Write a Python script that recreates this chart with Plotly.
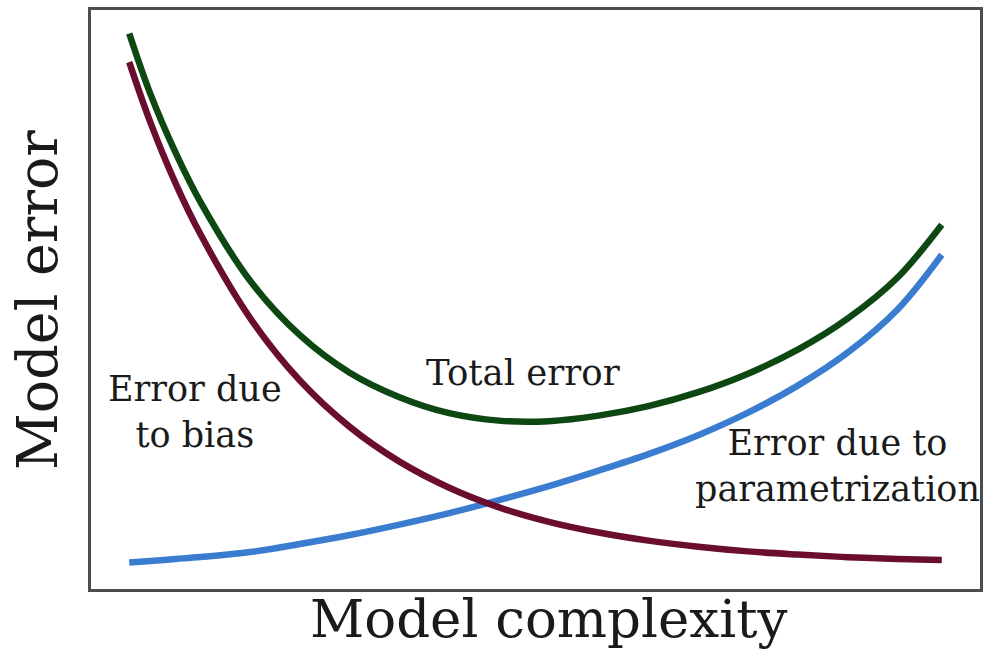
import plotly.graph_objects as go

# Model complexity (arbitrary units, 0-10)
complexity = [0.43, 0.67, 0.95, 1.23, 1.79, 2.35, 2.91, 3.47, 4.03, 4.59,
              5.15, 5.71, 6.27, 6.83, 7.39, 7.95, 8.51, 9.07, 9.57]

# Error due to bias (decreasing)
bias_error = [9.10, 8.05, 7.01, 6.13, 4.68, 3.60, 2.80, 2.20, 1.75, 1.41,
              1.16, 0.975, 0.835, 0.73, 0.65, 0.595, 0.55, 0.52, 0.50]

# Error due to parametrization (increasing)
param_error = [0.457, 0.483, 0.518, 0.552, 0.638, 0.777, 0.932, 1.113, 1.311, 1.536,
               1.777, 2.045, 2.330, 2.657, 3.046, 3.512, 4.081, 4.823, 5.772]

# Total error
total_error = [9.594, 8.542, 7.541, 6.687, 5.324, 4.383, 3.736, 3.313, 3.037, 2.908,
               2.899, 2.994, 3.158, 3.399, 3.719, 4.133, 4.668, 5.375, 6.290]

FONT = "DejaVu Serif"
TXT = "#1a1a1a"

fig = go.Figure()
fig.add_trace(go.Scatter(x=complexity, y=param_error, mode="lines",
                         line=dict(color="#3a7dd0", width=6.5, shape="spline"),
                         name="Error due to parametrization"))
fig.add_trace(go.Scatter(x=complexity, y=bias_error, mode="lines",
                         line=dict(color="#6b0d2e", width=6.5, shape="spline"),
                         name="Error due to bias"))
fig.add_trace(go.Scatter(x=complexity, y=total_error, mode="lines",
                         line=dict(color="#0d4712", width=6.5, shape="spline"),
                         name="Total error"))

annotations = [
    dict(text="Error due<br>to bias", x=1.17, y=3.05, xref="x", yref="y",
         showarrow=False, font=dict(family=FONT, size=35, color=TXT), align="center"),
    dict(text="Total error", x=4.86, y=3.74, xref="x", yref="y",
         showarrow=False, font=dict(family=FONT, size=35.5, color=TXT)),
    dict(text="Error due to<br>parametrization", x=8.40, y=2.13, xref="x", yref="y",
         showarrow=False, font=dict(family=FONT, size=35, color=TXT), align="center"),
    dict(text="Model complexity", x=0.515, y=-0.051, xref="paper", yref="paper",
         xanchor="center", yanchor="middle",
         showarrow=False, font=dict(family=FONT, size=53, color=TXT)),
    dict(text="Model error", x=-0.0602, y=0.5, xref="paper", yref="paper",
         xanchor="center", yanchor="middle", textangle=-90,
         showarrow=False, font=dict(family=FONT, size=55.5, color=TXT)),
]

fig.update_layout(
    width=984, height=662,
    margin=dict(l=90.5, r=1, t=9.5, b=72.5),
    paper_bgcolor="white", plot_bgcolor="white",
    showlegend=False,
    hovermode=False,
    annotations=annotations,
)
axis_style = dict(showgrid=False, zeroline=False, showticklabels=False, ticks="",
                  showline=True, mirror=True, linecolor="#4d4d4d", linewidth=3)
fig.update_xaxes(range=[0, 10], **axis_style)
fig.update_yaxes(range=[0, 10], **axis_style)

fig.write_html(
    "out.html",
    config={"displayModeBar": False},
    post_script="document.body.style.margin='0';document.body.style.overflow='hidden';",
)
